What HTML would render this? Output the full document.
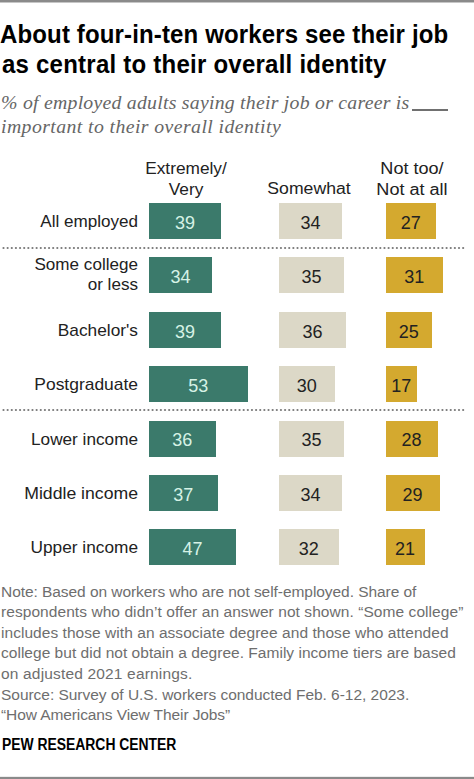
<!DOCTYPE html><html><head><meta charset="utf-8"><style>
html,body{margin:0;padding:0;background:#fff;}
body{width:474px;height:779px;position:relative;overflow:hidden;font-family:"Liberation Sans",sans-serif;}
.a{position:absolute;white-space:nowrap;}
.bar{position:absolute;height:36px;}
.g{background:#3b7a6b;}
.s{background:#dcd8c7;}
.y{background:#d4a92f;}
</style></head><body>
<div class="a" style="left:0;top:0;width:474px;height:2px;background:#8a8a8a"></div><div class="a" style="left:0;top:2px;width:474px;height:1px;background:#c6c6c6"></div>
<div class="a" style="left:0;top:777px;width:474px;height:2px;background:#8a8a8a"></div><div class="a" style="left:0;top:776px;width:474px;height:1px;background:#ededed"></div>

<div class="a" style="left:0px;top:18.98px;font-size:25px;line-height:30.5px;font-weight:bold;color:#000;letter-spacing:0.15px;transform:scaleX(0.96);transform-origin:0 0">About four-in-ten workers see their job<br><span style="letter-spacing:0.25px;margin-left:2px">as central to their overall identity</span></div>
<div class="a" style="left:1px;top:89.82px;font-size:19.8px;line-height:24px;font-family:'Liberation Serif',serif;font-style:italic;color:#666;letter-spacing:0.24px">% of employed adults saying their job or career is</div>
<div class="a" style="left:412px;top:109.3px;width:35.6px;height:1.4px;background:#707070"></div>
<div class="a" style="left:1px;top:113.82px;font-size:19.8px;line-height:24px;font-family:'Liberation Serif',serif;font-style:italic;color:#666;letter-spacing:0.405px">important to their overall identity</div>
<div class="a" style="left:86px;width:200px;text-align:center;top:158.35px;font-size:17.3px;line-height:20.5px;color:#222;">Extremely/<br>Very</div>
<div class="a" style="left:208.8px;width:200px;text-align:center;top:178.35px;font-size:17.3px;line-height:20.5px;color:#222;transform:scaleX(1.02)">Somewhat</div>
<div class="a" style="left:312.2px;width:200px;text-align:center;top:158.15px;font-size:17.3px;line-height:20.5px;color:#222;transform:scaleX(1.045)">Not too/<br>Not at all</div>
<div class="a" style="left:0;width:138px;text-align:right;top:212.00px;font-size:17px;line-height:20.5px;color:#222;transform:scaleX(1.004);transform-origin:137.6px 0">All employed</div>
<div class="bar g" style="left:148.8px;top:203.00px;width:72.66px"></div>
<div class="a" style="left:148.8px;width:72.66px;text-align:center;top:212.76px;font-size:18px;line-height:20px;color:#d6f2e6">39</div>
<div class="bar s" style="left:278.9px;top:203.00px;width:63.34px"></div>
<div class="a" style="left:278.9px;width:63.34px;text-align:center;top:212.76px;font-size:18px;line-height:20px;color:#222">34</div>
<div class="bar y" style="left:385.5px;top:203.00px;width:50.30px"></div>
<div class="a" style="left:385.5px;width:50.30px;text-align:center;top:212.76px;font-size:18px;line-height:20px;color:#222">27</div>
<div class="a" style="left:0;width:138px;text-align:right;top:254.83px;font-size:17px;line-height:20.5px;color:#222;transform:scaleX(1.005);transform-origin:137.6px 0">Some college<br>or less</div>
<div class="bar g" style="left:148.8px;top:257.38px;width:63.34px"></div>
<div class="a" style="left:148.8px;width:63.34px;text-align:center;top:267.14px;font-size:18px;line-height:20px;color:#d6f2e6">34</div>
<div class="bar s" style="left:278.9px;top:257.38px;width:65.20px"></div>
<div class="a" style="left:278.9px;width:65.20px;text-align:center;top:267.14px;font-size:18px;line-height:20px;color:#222">35</div>
<div class="bar y" style="left:385.5px;top:257.38px;width:57.75px"></div>
<div class="a" style="left:385.5px;width:57.75px;text-align:center;top:267.14px;font-size:18px;line-height:20px;color:#222">31</div>
<div class="a" style="left:0;width:138px;text-align:right;top:320.76px;font-size:17px;line-height:20.5px;color:#222;transform:scaleX(1.018);transform-origin:137.6px 0">Bachelor's</div>
<div class="bar g" style="left:148.8px;top:311.76px;width:72.66px"></div>
<div class="a" style="left:148.8px;width:72.66px;text-align:center;top:321.52px;font-size:18px;line-height:20px;color:#d6f2e6">39</div>
<div class="bar s" style="left:278.9px;top:311.76px;width:67.07px"></div>
<div class="a" style="left:278.9px;width:67.07px;text-align:center;top:321.52px;font-size:18px;line-height:20px;color:#222">36</div>
<div class="bar y" style="left:385.5px;top:311.76px;width:46.58px"></div>
<div class="a" style="left:385.5px;width:46.58px;text-align:center;top:321.52px;font-size:18px;line-height:20px;color:#222">25</div>
<div class="a" style="left:0;width:138px;text-align:right;top:375.14px;font-size:17px;line-height:20.5px;color:#222;transform:scaleX(1.025);transform-origin:137.6px 0">Postgraduate</div>
<div class="bar g" style="left:148.8px;top:366.14px;width:98.74px"></div>
<div class="a" style="left:148.8px;width:98.74px;text-align:center;top:375.90px;font-size:18px;line-height:20px;color:#d6f2e6">53</div>
<div class="bar s" style="left:278.9px;top:366.14px;width:55.89px"></div>
<div class="a" style="left:278.9px;width:55.89px;text-align:center;top:375.90px;font-size:18px;line-height:20px;color:#222">30</div>
<div class="bar y" style="left:385.5px;top:366.14px;width:31.67px"></div>
<div class="a" style="left:385.5px;width:31.67px;text-align:center;top:375.90px;font-size:18px;line-height:20px;color:#222">17</div>
<div class="a" style="left:0;width:138px;text-align:right;top:429.52px;font-size:17px;line-height:20.5px;color:#222;transform:scaleX(1.011);transform-origin:137.6px 0">Lower income</div>
<div class="bar g" style="left:148.8px;top:420.52px;width:67.07px"></div>
<div class="a" style="left:148.8px;width:67.07px;text-align:center;top:430.28px;font-size:18px;line-height:20px;color:#d6f2e6">36</div>
<div class="bar s" style="left:278.9px;top:420.52px;width:65.20px"></div>
<div class="a" style="left:278.9px;width:65.20px;text-align:center;top:430.28px;font-size:18px;line-height:20px;color:#222">35</div>
<div class="bar y" style="left:385.5px;top:420.52px;width:52.16px"></div>
<div class="a" style="left:385.5px;width:52.16px;text-align:center;top:430.28px;font-size:18px;line-height:20px;color:#222">28</div>
<div class="a" style="left:0;width:138px;text-align:right;top:483.90px;font-size:17px;line-height:20.5px;color:#222;transform:scaleX(1.038);transform-origin:137.6px 0">Middle income</div>
<div class="bar g" style="left:148.8px;top:474.90px;width:68.93px"></div>
<div class="a" style="left:148.8px;width:68.93px;text-align:center;top:484.66px;font-size:18px;line-height:20px;color:#d6f2e6">37</div>
<div class="bar s" style="left:278.9px;top:474.90px;width:63.34px"></div>
<div class="a" style="left:278.9px;width:63.34px;text-align:center;top:484.66px;font-size:18px;line-height:20px;color:#222">34</div>
<div class="bar y" style="left:385.5px;top:474.90px;width:54.03px"></div>
<div class="a" style="left:385.5px;width:54.03px;text-align:center;top:484.66px;font-size:18px;line-height:20px;color:#222">29</div>
<div class="a" style="left:0;width:138px;text-align:right;top:538.28px;font-size:17px;line-height:20.5px;color:#222;transform:scaleX(1.016);transform-origin:137.6px 0">Upper income</div>
<div class="bar g" style="left:148.8px;top:529.28px;width:87.56px"></div>
<div class="a" style="left:148.8px;width:87.56px;text-align:center;top:539.04px;font-size:18px;line-height:20px;color:#d6f2e6">47</div>
<div class="bar s" style="left:278.9px;top:529.28px;width:59.62px"></div>
<div class="a" style="left:278.9px;width:59.62px;text-align:center;top:539.04px;font-size:18px;line-height:20px;color:#222">32</div>
<div class="bar y" style="left:385.5px;top:529.28px;width:39.12px"></div>
<div class="a" style="left:385.5px;width:39.12px;text-align:center;top:539.04px;font-size:18px;line-height:20px;color:#222">21</div>
<svg class="a" style="left:0;top:246.3px" width="474" height="4" fill="#777"><circle cx="3.50" cy="2" r="1.1"/><circle cx="7.64" cy="2" r="1.1"/><circle cx="11.78" cy="2" r="1.1"/><circle cx="15.92" cy="2" r="1.1"/><circle cx="20.06" cy="2" r="1.1"/><circle cx="24.20" cy="2" r="1.1"/><circle cx="28.35" cy="2" r="1.1"/><circle cx="32.49" cy="2" r="1.1"/><circle cx="36.63" cy="2" r="1.1"/><circle cx="40.77" cy="2" r="1.1"/><circle cx="44.91" cy="2" r="1.1"/><circle cx="49.05" cy="2" r="1.1"/><circle cx="53.19" cy="2" r="1.1"/><circle cx="57.33" cy="2" r="1.1"/><circle cx="61.47" cy="2" r="1.1"/><circle cx="65.62" cy="2" r="1.1"/><circle cx="69.76" cy="2" r="1.1"/><circle cx="73.90" cy="2" r="1.1"/><circle cx="78.04" cy="2" r="1.1"/><circle cx="82.18" cy="2" r="1.1"/><circle cx="86.32" cy="2" r="1.1"/><circle cx="90.46" cy="2" r="1.1"/><circle cx="94.60" cy="2" r="1.1"/><circle cx="98.74" cy="2" r="1.1"/><circle cx="102.88" cy="2" r="1.1"/><circle cx="107.03" cy="2" r="1.1"/><circle cx="111.17" cy="2" r="1.1"/><circle cx="115.31" cy="2" r="1.1"/><circle cx="119.45" cy="2" r="1.1"/><circle cx="123.59" cy="2" r="1.1"/><circle cx="127.73" cy="2" r="1.1"/><circle cx="131.87" cy="2" r="1.1"/><circle cx="136.01" cy="2" r="1.1"/><circle cx="140.15" cy="2" r="1.1"/><circle cx="144.29" cy="2" r="1.1"/><circle cx="148.44" cy="2" r="1.1"/><circle cx="152.58" cy="2" r="1.1"/><circle cx="156.72" cy="2" r="1.1"/><circle cx="160.86" cy="2" r="1.1"/><circle cx="165.00" cy="2" r="1.1"/><circle cx="169.14" cy="2" r="1.1"/><circle cx="173.28" cy="2" r="1.1"/><circle cx="177.42" cy="2" r="1.1"/><circle cx="181.56" cy="2" r="1.1"/><circle cx="185.70" cy="2" r="1.1"/><circle cx="189.84" cy="2" r="1.1"/><circle cx="193.99" cy="2" r="1.1"/><circle cx="198.13" cy="2" r="1.1"/><circle cx="202.27" cy="2" r="1.1"/><circle cx="206.41" cy="2" r="1.1"/><circle cx="210.55" cy="2" r="1.1"/><circle cx="214.69" cy="2" r="1.1"/><circle cx="218.83" cy="2" r="1.1"/><circle cx="222.97" cy="2" r="1.1"/><circle cx="227.11" cy="2" r="1.1"/><circle cx="231.25" cy="2" r="1.1"/><circle cx="235.40" cy="2" r="1.1"/><circle cx="239.54" cy="2" r="1.1"/><circle cx="243.68" cy="2" r="1.1"/><circle cx="247.82" cy="2" r="1.1"/><circle cx="251.96" cy="2" r="1.1"/><circle cx="256.10" cy="2" r="1.1"/><circle cx="260.24" cy="2" r="1.1"/><circle cx="264.38" cy="2" r="1.1"/><circle cx="268.52" cy="2" r="1.1"/><circle cx="272.67" cy="2" r="1.1"/><circle cx="276.81" cy="2" r="1.1"/><circle cx="280.95" cy="2" r="1.1"/><circle cx="285.09" cy="2" r="1.1"/><circle cx="289.23" cy="2" r="1.1"/><circle cx="293.37" cy="2" r="1.1"/><circle cx="297.51" cy="2" r="1.1"/><circle cx="301.65" cy="2" r="1.1"/><circle cx="305.79" cy="2" r="1.1"/><circle cx="309.93" cy="2" r="1.1"/><circle cx="314.07" cy="2" r="1.1"/><circle cx="318.22" cy="2" r="1.1"/><circle cx="322.36" cy="2" r="1.1"/><circle cx="326.50" cy="2" r="1.1"/><circle cx="330.64" cy="2" r="1.1"/><circle cx="334.78" cy="2" r="1.1"/><circle cx="338.92" cy="2" r="1.1"/><circle cx="343.06" cy="2" r="1.1"/><circle cx="347.20" cy="2" r="1.1"/><circle cx="351.34" cy="2" r="1.1"/><circle cx="355.49" cy="2" r="1.1"/><circle cx="359.63" cy="2" r="1.1"/><circle cx="363.77" cy="2" r="1.1"/><circle cx="367.91" cy="2" r="1.1"/><circle cx="372.05" cy="2" r="1.1"/><circle cx="376.19" cy="2" r="1.1"/><circle cx="380.33" cy="2" r="1.1"/><circle cx="384.47" cy="2" r="1.1"/><circle cx="388.61" cy="2" r="1.1"/><circle cx="392.75" cy="2" r="1.1"/><circle cx="396.89" cy="2" r="1.1"/><circle cx="401.04" cy="2" r="1.1"/><circle cx="405.18" cy="2" r="1.1"/><circle cx="409.32" cy="2" r="1.1"/><circle cx="413.46" cy="2" r="1.1"/><circle cx="417.60" cy="2" r="1.1"/><circle cx="421.74" cy="2" r="1.1"/><circle cx="425.88" cy="2" r="1.1"/><circle cx="430.02" cy="2" r="1.1"/><circle cx="434.16" cy="2" r="1.1"/><circle cx="438.31" cy="2" r="1.1"/><circle cx="442.45" cy="2" r="1.1"/><circle cx="446.59" cy="2" r="1.1"/><circle cx="450.73" cy="2" r="1.1"/><circle cx="454.87" cy="2" r="1.1"/><circle cx="459.01" cy="2" r="1.1"/><circle cx="463.15" cy="2" r="1.1"/></svg>
<svg class="a" style="left:0;top:408.1px" width="474" height="4" fill="#777"><circle cx="3.50" cy="2" r="1.1"/><circle cx="7.64" cy="2" r="1.1"/><circle cx="11.78" cy="2" r="1.1"/><circle cx="15.92" cy="2" r="1.1"/><circle cx="20.06" cy="2" r="1.1"/><circle cx="24.20" cy="2" r="1.1"/><circle cx="28.35" cy="2" r="1.1"/><circle cx="32.49" cy="2" r="1.1"/><circle cx="36.63" cy="2" r="1.1"/><circle cx="40.77" cy="2" r="1.1"/><circle cx="44.91" cy="2" r="1.1"/><circle cx="49.05" cy="2" r="1.1"/><circle cx="53.19" cy="2" r="1.1"/><circle cx="57.33" cy="2" r="1.1"/><circle cx="61.47" cy="2" r="1.1"/><circle cx="65.62" cy="2" r="1.1"/><circle cx="69.76" cy="2" r="1.1"/><circle cx="73.90" cy="2" r="1.1"/><circle cx="78.04" cy="2" r="1.1"/><circle cx="82.18" cy="2" r="1.1"/><circle cx="86.32" cy="2" r="1.1"/><circle cx="90.46" cy="2" r="1.1"/><circle cx="94.60" cy="2" r="1.1"/><circle cx="98.74" cy="2" r="1.1"/><circle cx="102.88" cy="2" r="1.1"/><circle cx="107.03" cy="2" r="1.1"/><circle cx="111.17" cy="2" r="1.1"/><circle cx="115.31" cy="2" r="1.1"/><circle cx="119.45" cy="2" r="1.1"/><circle cx="123.59" cy="2" r="1.1"/><circle cx="127.73" cy="2" r="1.1"/><circle cx="131.87" cy="2" r="1.1"/><circle cx="136.01" cy="2" r="1.1"/><circle cx="140.15" cy="2" r="1.1"/><circle cx="144.29" cy="2" r="1.1"/><circle cx="148.44" cy="2" r="1.1"/><circle cx="152.58" cy="2" r="1.1"/><circle cx="156.72" cy="2" r="1.1"/><circle cx="160.86" cy="2" r="1.1"/><circle cx="165.00" cy="2" r="1.1"/><circle cx="169.14" cy="2" r="1.1"/><circle cx="173.28" cy="2" r="1.1"/><circle cx="177.42" cy="2" r="1.1"/><circle cx="181.56" cy="2" r="1.1"/><circle cx="185.70" cy="2" r="1.1"/><circle cx="189.84" cy="2" r="1.1"/><circle cx="193.99" cy="2" r="1.1"/><circle cx="198.13" cy="2" r="1.1"/><circle cx="202.27" cy="2" r="1.1"/><circle cx="206.41" cy="2" r="1.1"/><circle cx="210.55" cy="2" r="1.1"/><circle cx="214.69" cy="2" r="1.1"/><circle cx="218.83" cy="2" r="1.1"/><circle cx="222.97" cy="2" r="1.1"/><circle cx="227.11" cy="2" r="1.1"/><circle cx="231.25" cy="2" r="1.1"/><circle cx="235.40" cy="2" r="1.1"/><circle cx="239.54" cy="2" r="1.1"/><circle cx="243.68" cy="2" r="1.1"/><circle cx="247.82" cy="2" r="1.1"/><circle cx="251.96" cy="2" r="1.1"/><circle cx="256.10" cy="2" r="1.1"/><circle cx="260.24" cy="2" r="1.1"/><circle cx="264.38" cy="2" r="1.1"/><circle cx="268.52" cy="2" r="1.1"/><circle cx="272.67" cy="2" r="1.1"/><circle cx="276.81" cy="2" r="1.1"/><circle cx="280.95" cy="2" r="1.1"/><circle cx="285.09" cy="2" r="1.1"/><circle cx="289.23" cy="2" r="1.1"/><circle cx="293.37" cy="2" r="1.1"/><circle cx="297.51" cy="2" r="1.1"/><circle cx="301.65" cy="2" r="1.1"/><circle cx="305.79" cy="2" r="1.1"/><circle cx="309.93" cy="2" r="1.1"/><circle cx="314.07" cy="2" r="1.1"/><circle cx="318.22" cy="2" r="1.1"/><circle cx="322.36" cy="2" r="1.1"/><circle cx="326.50" cy="2" r="1.1"/><circle cx="330.64" cy="2" r="1.1"/><circle cx="334.78" cy="2" r="1.1"/><circle cx="338.92" cy="2" r="1.1"/><circle cx="343.06" cy="2" r="1.1"/><circle cx="347.20" cy="2" r="1.1"/><circle cx="351.34" cy="2" r="1.1"/><circle cx="355.49" cy="2" r="1.1"/><circle cx="359.63" cy="2" r="1.1"/><circle cx="363.77" cy="2" r="1.1"/><circle cx="367.91" cy="2" r="1.1"/><circle cx="372.05" cy="2" r="1.1"/><circle cx="376.19" cy="2" r="1.1"/><circle cx="380.33" cy="2" r="1.1"/><circle cx="384.47" cy="2" r="1.1"/><circle cx="388.61" cy="2" r="1.1"/><circle cx="392.75" cy="2" r="1.1"/><circle cx="396.89" cy="2" r="1.1"/><circle cx="401.04" cy="2" r="1.1"/><circle cx="405.18" cy="2" r="1.1"/><circle cx="409.32" cy="2" r="1.1"/><circle cx="413.46" cy="2" r="1.1"/><circle cx="417.60" cy="2" r="1.1"/><circle cx="421.74" cy="2" r="1.1"/><circle cx="425.88" cy="2" r="1.1"/><circle cx="430.02" cy="2" r="1.1"/><circle cx="434.16" cy="2" r="1.1"/><circle cx="438.31" cy="2" r="1.1"/><circle cx="442.45" cy="2" r="1.1"/><circle cx="446.59" cy="2" r="1.1"/><circle cx="450.73" cy="2" r="1.1"/><circle cx="454.87" cy="2" r="1.1"/><circle cx="459.01" cy="2" r="1.1"/><circle cx="463.15" cy="2" r="1.1"/></svg>
<div class="a" style="left:1px;top:581.53px;font-size:15.5px;line-height:20px;color:#6e6e6e;letter-spacing:-0.060px">Note: Based on workers who are not self-employed. Share of</div>
<div class="a" style="left:1px;top:602.13px;font-size:15.5px;line-height:20px;color:#6e6e6e;letter-spacing:0.067px">respondents who didn’t offer an answer not shown. “Some college”</div>
<div class="a" style="left:1px;top:622.73px;font-size:15.5px;line-height:20px;color:#6e6e6e;letter-spacing:0.047px">includes those with an associate degree and those who attended</div>
<div class="a" style="left:1px;top:643.33px;font-size:15.5px;line-height:20px;color:#6e6e6e;letter-spacing:0.024px">college but did not obtain a degree. Family income tiers are based</div>
<div class="a" style="left:1px;top:663.93px;font-size:15.5px;line-height:20px;color:#6e6e6e;letter-spacing:0.168px">on adjusted 2021 earnings.</div>
<div class="a" style="left:1px;top:684.53px;font-size:15.5px;line-height:20px;color:#6e6e6e;letter-spacing:-0.034px">Source: Survey of U.S. workers conducted Feb. 6-12, 2023.</div>
<div class="a" style="left:1px;top:705.13px;font-size:15.5px;line-height:20px;color:#6e6e6e;letter-spacing:-0.094px">“How Americans View Their Jobs”</div>
<div class="a" style="left:2px;top:736.45px;font-size:16px;line-height:18px;font-weight:bold;color:#000;transform:scaleX(0.868);transform-origin:0 0">PEW RESEARCH CENTER</div>
</body></html>
